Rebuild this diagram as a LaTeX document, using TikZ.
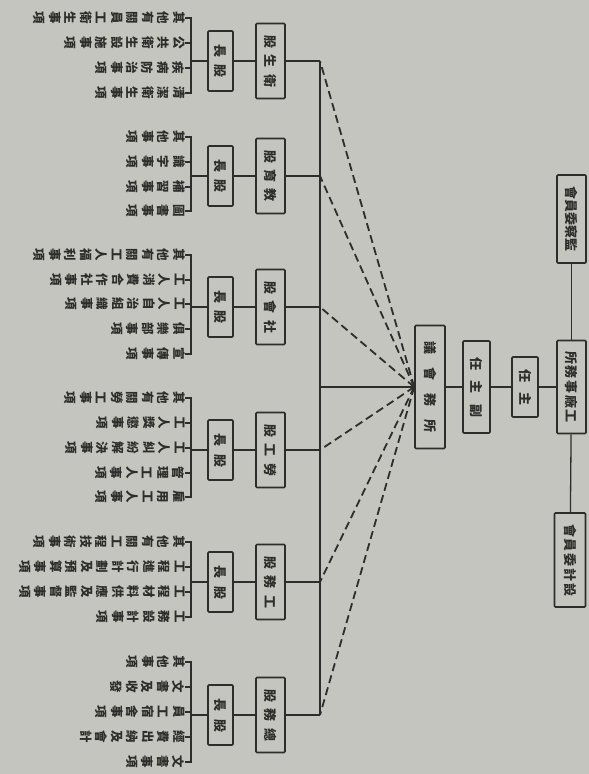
\documentclass[tikz,border=0pt]{standalone}
\usepackage{fontspec}
\usepackage{graphicx}
\newfontfamily\cjk{Noto Sans CJK TC}
\definecolor{paper}{RGB}{197,197,191}
\definecolor{ink}{RGB}{45,45,43}
\newcommand\vst[1]{\vbox{\baselineskip=15.5pt\lineskiplimit=-20pt\lineskip=0pt\vstaux#1\relax}}
\def\vstaux#1{\ifx#1\relax\else\hbox{#1}\expandafter\vstaux\fi}
\newcommand\blab[2]{\rotatebox{-90}{\makebox[#1][s]{#2}}}
\newcommand\itm[1]{\rotatebox{-90}{\vst{#1}}}
\begin{document}
\begin{tikzpicture}[x=1pt,y=-1pt,
  box/.style={draw=ink, line width=1.6pt, fill=paper, inner sep=0pt, rounded corners=1pt, text=ink, font=\cjk\bfseries\fontsize{13}{13}\selectfont},
  gubox/.style={box, minimum width=29pt, minimum height=75pt},
  zzbox/.style={box, minimum width=25pt, minimum height=60pt},
  item/.style={anchor=east, inner sep=0pt, text=ink, font=\cjk\bfseries\fontsize{12.5}{15}\selectfont},
  con/.style={draw=ink, line width=1.3pt},
  dsh/.style={draw=ink, line width=1.8pt, dash pattern=on 8pt off 4.5pt}]
\fill[paper] (0,0) rectangle (589,774);
\useasboundingbox (0,0) rectangle (589,774);

% right part
\node[box, minimum width=29pt, minimum height=88pt] (jc) at (571.5,219) {\blab{66pt}{會\hfill 員\hfill 委\hfill 察\hfill 監}};
\node[box, minimum width=29pt, minimum height=93pt] (gc) at (571.5,387) {\blab{72pt}{所\hfill 務\hfill 事\hfill 廠\hfill 工}};
\node[box, minimum width=31pt, minimum height=94pt] (sj) at (570,560) {\blab{72pt}{會\hfill 員\hfill 委\hfill 計\hfill 設}};
\node[box, minimum width=26pt, minimum height=60pt] (zr) at (525,387) {\blab{36pt}{任\hfill 主}};
\node[box, minimum width=27pt, minimum height=92pt] (fz) at (476.5,387) {\blab{60pt}{任\hfill 主\hfill 副}};
\node[box, minimum width=30pt, minimum height=123pt] (sw) at (430,387) {\blab{92pt}{議\hfill 會\hfill 務\hfill 所}};
\draw[con] (jc) -- (gc);
\draw[con] (gc) -- (sj);
\draw[con] (gc) -- (zr);
\draw[con] (zr) -- (fz);
\draw[con] (fz) -- (sw);
\coordinate (hub) at (320,387);
\draw[con] (sw.west) -- (hub);

% groups
\foreach \n/\y/\a/\b/\c in {1/61/股/生/衛, 2/176/股/育/教, 3/307/股/會/社, 4/450/股/工/勞, 5/582/股/務/工, 6/715/股/務/總}{
  \node[gubox] (g\n) at (270.5,\y) {\blab{52pt}{\a\hfill \b\hfill \c}};
  \node[zzbox] (z\n) at (220.5,\y) {\blab{34pt}{長\hfill 股}};
  \coordinate (b\n) at (191,\y);
  \coordinate (u\n) at (320,\y);
  \draw[con] (b\n) -- (z\n);
  \draw[con] (z\n) -- (g\n);
  \draw[con] (g\n) -- (u\n);
  \draw[dsh] (sw.west) -- (u\n);
}
\draw[con] (u1) -- (u6);

% group 1
\node[item] (a1) at (185,18) {\itm{其他有關員工衛生事項}};
\node[item] (a2) at (185,43) {\itm{公共衛生設施事項}};
\node[item] (a3) at (185,68) {\itm{疾病防治事項}};
\node[item] (a4) at (185,93) {\itm{清潔衛生事項}};
\draw[con] (a1.east) -- (a1.east -| b1) -- (a4.east -| b1) -- (a4.east);
\foreach \i in {a2,a3} \draw[con] (\i.east) -- (\i.east -| b1);

% group 2
\node[item] (c1) at (185,137) {\itm{其他事項}};
\node[item] (c2) at (185,162) {\itm{識字事項}};
\node[item] (c3) at (185,187) {\itm{補習事項}};
\node[item] (c4) at (185,211) {\itm{圖書事項}};
\draw[con] (c1.east) -- (c1.east -| b2) -- (c4.east -| b2) -- (c4.east);
\foreach \i in {c2,c3} \draw[con] (\i.east) -- (\i.east -| b2);

% group 3
\node[item] (d1) at (185,255) {\itm{其他有關工人福利事項}};
\node[item] (d2) at (185,280) {\itm{工人消費合作社事項}};
\node[item] (d3) at (185,304) {\itm{工人自治組織事項}};
\node[item] (d4) at (185,329) {\itm{俱樂部事項}};
\node[item] (d5) at (185,354) {\itm{宣傳事項}};
\draw[con] (d1.east) -- (d1.east -| b3) -- (d5.east -| b3) -- (d5.east);
\foreach \i in {d2,d3,d4} \draw[con] (\i.east) -- (\i.east -| b3);

% group 4
\node[item] (e1) at (185,398) {\itm{其他有關勞工事項}};
\node[item] (e2) at (185,423) {\itm{工人獎懲事項}};
\node[item] (e3) at (185,448) {\itm{工人糾紛解決事項}};
\node[item] (e4) at (185,473) {\itm{管理工人事項}};
\node[item] (e5) at (185,497) {\itm{雇用工人事項}};
\draw[con] (e1.east) -- (e1.east -| b4) -- (e5.east -| b4) -- (e5.east);
\foreach \i in {e2,e3,e4} \draw[con] (\i.east) -- (\i.east -| b4);

% group 5
\node[item] (f1) at (185,542) {\itm{其他有關工程技術事項}};
\node[item] (f2) at (185,567) {\itm{工程進行計劃及預算事項}};
\node[item] (f3) at (185,592) {\itm{工程材料供應及監督事項}};
\node[item] (f4) at (185,617) {\itm{工務設計事項}};
\draw[con] (f1.east) -- (f1.east -| b5) -- (f4.east -| b5) -- (f4.east);
\foreach \i in {f2,f3} \draw[con] (\i.east) -- (\i.east -| b5);

% group 6
\node[item] (h1) at (185,662) {\itm{其他事項}};
\node[item] (h2) at (185,687) {\itm{文書及收發}};
\node[item] (h3) at (185,712) {\itm{員工宿舍事項}};
\node[item] (h4) at (185,737) {\itm{經費出納及會計}};
\node[item] (h5) at (185,762) {\itm{文書事項}};
\draw[con] (h1.east) -- (h1.east -| b6) -- (h5.east -| b6) -- (h5.east);
\foreach \i in {h2,h3,h4} \draw[con] (\i.east) -- (\i.east -| b6);
\end{tikzpicture}
\end{document}
